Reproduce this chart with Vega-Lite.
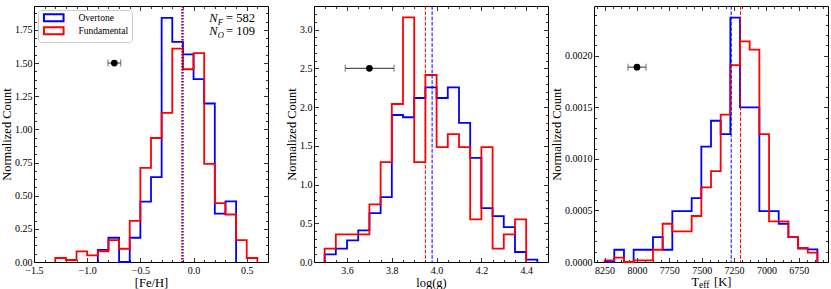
{
"$schema": "https://vega.github.io/schema/vega-lite/v6.json",
"padding": {"left": 0, "top": 4, "right": 2, "bottom": 0},
"spacing": 46,
"bounds": "flush",
"config": {
 "view": {"stroke": "black", "strokeWidth": 1},
 "font": "Liberation Serif",
 "axis": {"domain": false, "grid": false, "labelFont": "Liberation Serif", "labelFontSize": 10, "labelColor": "black", "titleFont": "Liberation Serif", "titleFontSize": 12.5, "titleFontWeight": "normal", "titleColor": "black", "tickColor": "black", "tickWidth": 0.8, "labelFlush": false, "labelOverlap": false, "labelPadding": 6.5},
 "axisBottom": {"labelPadding": 8}
},
"resolve": {"scale": {"color": "independent"}},
"datasets": {
 "h1": [
  {"s":"Overtone","i":0,"x":-0.9,"y":0},
  {"s":"Overtone","i":1,"x":-0.9,"y":0.092},
  {"s":"Overtone","i":2,"x":-0.8,"y":0.183},
  {"s":"Overtone","i":3,"x":-0.7,"y":0},
  {"s":"Overtone","i":4,"x":-0.6,"y":0.183},
  {"s":"Overtone","i":5,"x":-0.5,"y":0.455},
  {"s":"Overtone","i":6,"x":-0.4,"y":0.64},
  {"s":"Overtone","i":7,"x":-0.3,"y":1.84},
  {"s":"Overtone","i":8,"x":-0.2,"y":1.66},
  {"s":"Overtone","i":9,"x":-0.1,"y":1.565},
  {"s":"Overtone","i":10,"x":0.0,"y":1.378},
  {"s":"Overtone","i":11,"x":0.1,"y":1.195},
  {"s":"Overtone","i":12,"x":0.2,"y":0.365},
  {"s":"Overtone","i":13,"x":0.3,"y":0.457},
  {"s":"Overtone","i":14,"x":0.4,"y":0},
  {"s":"Fundamental","i":15,"x":-1.3,"y":0},
  {"s":"Fundamental","i":16,"x":-1.3,"y":0.03},
  {"s":"Fundamental","i":17,"x":-1.2,"y":0.015},
  {"s":"Fundamental","i":18,"x":-1.1,"y":0.08},
  {"s":"Fundamental","i":19,"x":-1.0,"y":0.05},
  {"s":"Fundamental","i":20,"x":-0.9,"y":0.08},
  {"s":"Fundamental","i":21,"x":-0.8,"y":0.165},
  {"s":"Fundamental","i":22,"x":-0.7,"y":0.1},
  {"s":"Fundamental","i":23,"x":-0.6,"y":0.31},
  {"s":"Fundamental","i":24,"x":-0.5,"y":0.71},
  {"s":"Fundamental","i":25,"x":-0.4,"y":0.935},
  {"s":"Fundamental","i":26,"x":-0.3,"y":1.125},
  {"s":"Fundamental","i":27,"x":-0.2,"y":1.609},
  {"s":"Fundamental","i":28,"x":-0.1,"y":1.453},
  {"s":"Fundamental","i":29,"x":0.0,"y":1.574},
  {"s":"Fundamental","i":30,"x":0.1,"y":0.74},
  {"s":"Fundamental","i":31,"x":0.2,"y":0.444},
  {"s":"Fundamental","i":32,"x":0.3,"y":0.358},
  {"s":"Fundamental","i":33,"x":0.4,"y":0.165},
  {"s":"Fundamental","i":34,"x":0.5,"y":0.03},
  {"s":"Fundamental","i":35,"x":0.6,"y":0}
 ],
 "h2": [
  {"s":"Overtone","i":0,"x":3.5,"y":0},
  {"s":"Overtone","i":1,"x":3.5,"y":0.099},
  {"s":"Overtone","i":2,"x":3.55,"y":0.172},
  {"s":"Overtone","i":3,"x":3.6,"y":0.28},
  {"s":"Overtone","i":4,"x":3.65,"y":0.408},
  {"s":"Overtone","i":5,"x":3.7,"y":0.631},
  {"s":"Overtone","i":6,"x":3.75,"y":0.838},
  {"s":"Overtone","i":7,"x":3.8,"y":1.898},
  {"s":"Overtone","i":8,"x":3.85,"y":1.869},
  {"s":"Overtone","i":9,"x":3.9,"y":2.117},
  {"s":"Overtone","i":10,"x":3.95,"y":2.255},
  {"s":"Overtone","i":11,"x":4.0,"y":2.117},
  {"s":"Overtone","i":12,"x":4.05,"y":2.255},
  {"s":"Overtone","i":13,"x":4.1,"y":1.795},
  {"s":"Overtone","i":14,"x":4.15,"y":1.344},
  {"s":"Overtone","i":15,"x":4.2,"y":0.696},
  {"s":"Overtone","i":16,"x":4.25,"y":0.593},
  {"s":"Overtone","i":17,"x":4.3,"y":0.451},
  {"s":"Overtone","i":18,"x":4.35,"y":0.129},
  {"s":"Overtone","i":19,"x":4.4,"y":0.03},
  {"s":"Overtone","i":20,"x":4.45,"y":0},
  {"s":"Fundamental","i":21,"x":3.5,"y":0},
  {"s":"Fundamental","i":22,"x":3.5,"y":0.172},
  {"s":"Fundamental","i":23,"x":3.55,"y":0.357},
  {"s":"Fundamental","i":24,"x":3.6,"y":0.357},
  {"s":"Fundamental","i":25,"x":3.65,"y":0.357},
  {"s":"Fundamental","i":26,"x":3.7,"y":0.743},
  {"s":"Fundamental","i":27,"x":3.75,"y":1.29},
  {"s":"Fundamental","i":28,"x":3.8,"y":2.04},
  {"s":"Fundamental","i":29,"x":3.85,"y":3.157},
  {"s":"Fundamental","i":30,"x":3.9,"y":1.29},
  {"s":"Fundamental","i":31,"x":3.95,"y":2.414},
  {"s":"Fundamental","i":32,"x":4.0,"y":1.482},
  {"s":"Fundamental","i":33,"x":4.05,"y":1.65},
  {"s":"Fundamental","i":34,"x":4.1,"y":1.482},
  {"s":"Fundamental","i":35,"x":4.15,"y":0.55},
  {"s":"Fundamental","i":36,"x":4.2,"y":1.482},
  {"s":"Fundamental","i":37,"x":4.25,"y":0.172},
  {"s":"Fundamental","i":38,"x":4.3,"y":0.357},
  {"s":"Fundamental","i":39,"x":4.35,"y":0.55},
  {"s":"Fundamental","i":40,"x":4.4,"y":0}
 ],
 "h3": [
  {"s":"Overtone","i":0,"x":6606.0,"y":0},
  {"s":"Overtone","i":1,"x":6606.0,"y":0.000123},
  {"s":"Overtone","i":2,"x":6680.7,"y":0.000129},
  {"s":"Overtone","i":3,"x":6755.4,"y":0.000242},
  {"s":"Overtone","i":4,"x":6830.1,"y":0.000371},
  {"s":"Overtone","i":5,"x":6904.9,"y":0.000494},
  {"s":"Overtone","i":6,"x":6979.6,"y":0.000494},
  {"s":"Overtone","i":7,"x":7054.3,"y":0.00150},
  {"s":"Overtone","i":8,"x":7129.1,"y":0.00150},
  {"s":"Overtone","i":9,"x":7203.8,"y":0.00237},
  {"s":"Overtone","i":10,"x":7278.5,"y":0.00124},
  {"s":"Overtone","i":11,"x":7353.2,"y":0.00137},
  {"s":"Overtone","i":12,"x":7428.0,"y":0.00112},
  {"s":"Overtone","i":13,"x":7502.7,"y":0.000620},
  {"s":"Overtone","i":14,"x":7577.4,"y":0.000494},
  {"s":"Overtone","i":15,"x":7652.2,"y":0.000494},
  {"s":"Overtone","i":16,"x":7726.9,"y":0.000119},
  {"s":"Overtone","i":17,"x":7801.6,"y":0.000242},
  {"s":"Overtone","i":18,"x":7876.4,"y":0.000119},
  {"s":"Overtone","i":19,"x":7951.1,"y":0.000119},
  {"s":"Overtone","i":20,"x":8025.8,"y":0},
  {"s":"Overtone","i":21,"x":8100.5,"y":0.000119},
  {"s":"Overtone","i":22,"x":8175.3,"y":0},
  {"s":"Overtone","i":23,"x":8250.0,"y":0},
  {"s":"Fundamental","i":24,"x":6606.0,"y":0},
  {"s":"Fundamental","i":25,"x":6606.0,"y":0.000090},
  {"s":"Fundamental","i":26,"x":6680.7,"y":0.000136},
  {"s":"Fundamental","i":27,"x":6755.4,"y":0.000242},
  {"s":"Fundamental","i":28,"x":6830.1,"y":0.000394},
  {"s":"Fundamental","i":29,"x":6904.9,"y":0.000394},
  {"s":"Fundamental","i":30,"x":6979.6,"y":0.00124},
  {"s":"Fundamental","i":31,"x":7054.3,"y":0.00206},
  {"s":"Fundamental","i":32,"x":7129.1,"y":0.00214},
  {"s":"Fundamental","i":33,"x":7203.8,"y":0.00191},
  {"s":"Fundamental","i":34,"x":7278.5,"y":0.00143},
  {"s":"Fundamental","i":35,"x":7353.2,"y":0.000882},
  {"s":"Fundamental","i":36,"x":7428.0,"y":0.000723},
  {"s":"Fundamental","i":37,"x":7502.7,"y":0.000446},
  {"s":"Fundamental","i":38,"x":7577.4,"y":0.000297},
  {"s":"Fundamental","i":39,"x":7652.2,"y":0.000297},
  {"s":"Fundamental","i":40,"x":7726.9,"y":0.000371},
  {"s":"Fundamental","i":41,"x":7801.6,"y":0.000119},
  {"s":"Fundamental","i":42,"x":7876.4,"y":0.000016},
  {"s":"Fundamental","i":43,"x":7951.1,"y":0.000016},
  {"s":"Fundamental","i":44,"x":8025.8,"y":0},
  {"s":"Fundamental","i":45,"x":8100.5,"y":0.000042},
  {"s":"Fundamental","i":46,"x":8175.3,"y":0.000016},
  {"s":"Fundamental","i":47,"x":8250.0,"y":0}
 ],
 "m1": [{"s":"Overtone","x":-0.10},{"s":"Fundamental","x":-0.11}],
 "m2": [{"s":"Overtone","x":3.98},{"s":"Fundamental","x":3.95}],
 "m3": [{"s":"Overtone","x":7272},{"s":"Fundamental","x":7200}],
 "e1": [{"x":-0.745,"lo":-0.805,"hi":-0.685,"y":1.5}],
 "e2": [{"x":3.70,"lo":3.592,"hi":3.81,"y":2.5}],
 "e3": [{"x":8000,"lo":7930,"hi":8070,"y":0.00189}],
 "nMain": [{"x":0.148,"y":1.813,"t":"N"},{"x":0.148,"y":1.708,"t":"N"}],
 "nSub": [{"x":0.228,"y":1.79,"t":"F"},{"x":0.228,"y":1.685,"t":"O"}],
 "nVal": [{"x":0.305,"y":1.813,"t":"= 582"},{"x":0.305,"y":1.708,"t":"= 109"}],
 "tMain": [{"x":7579,"y":-0.000228,"t":"T"},{"x":7405,"y":-0.000228,"t":"[K]"}],
 "tSub": [{"x":7521,"y":-0.000252,"t":"eff"}]
},
"hconcat": [
 {
  "width": 234, "height": 256,
  "resolve": {"axis": {"x": "independent", "y": "independent"}},
  "layer": [
   {"data": {"name": "h1"},
    "mark": {"type": "line", "interpolate": "step-after", "strokeWidth": 1.8},
    "encoding": {
     "x": {"field": "x", "type": "quantitative", "scale": {"domain": [-1.5, 0.7], "nice": false, "zero": false},
           "axis": {"orient": "bottom", "values": [-1.5, -1, -0.5, 0, 0.5], "format": ".1f", "tickSize": -4.5, "title": "[Fe/H]", "titlePadding": 1}},
     "y": {"field": "y", "type": "quantitative", "scale": {"domain": [0, 1.93], "nice": false, "zero": false},
           "axis": {"orient": "left", "values": [0, 0.25, 0.5, 0.75, 1, 1.25, 1.5, 1.75], "format": ".2f", "tickSize": -4.5, "title": "Normalized Count", "titlePadding": 1}},
     "color": {"field": "s", "type": "nominal", "scale": {"domain": ["Overtone", "Fundamental"], "range": ["#0000ff", "#ff0000"]},
               "legend": {"title": null, "orient": "top-left", "offset": 4, "padding": 3, "strokeColor": "#cccccc", "fillColor": "white", "cornerRadius": 3, "symbolType": "M-2.8,-1H2.8V1H-2.8Z", "symbolSize": 49, "symbolStrokeWidth": 2, "symbolFillColor": "transparent", "symbolOffset": 8, "labelOffset": 20, "labelFont": "Liberation Serif", "labelFontSize": 9.5, "labelColor": "black", "rowPadding": -6}},
     "order": {"field": "i", "type": "quantitative"}
    }
   },
   {"data": {"name": "m1"},
    "mark": {"type": "rule", "strokeDash": [1.5, 1.5], "strokeWidth": 1.5},
    "encoding": {
     "x": {"field": "x", "type": "quantitative", "scale": {"domain": [-1.5, 0.7], "nice": false, "zero": false}, "axis": null},
     "color": {"field": "s", "type": "nominal", "scale": {"domain": ["Overtone", "Fundamental"], "range": ["#0000ff", "#ff0000"]}, "legend": null}
    }
   },
   {"data": {"name": "e1"},
    "mark": {"type": "errorbar", "ticks": {"size": 7, "thickness": 1.2, "color": "#555555"}, "rule": {"strokeWidth": 1.2, "color": "#555555"}},
    "encoding": {
     "x": {"field": "lo", "type": "quantitative", "scale": {"domain": [-1.5, 0.7], "nice": false, "zero": false}, "axis": null},
     "x2": {"field": "hi"},
     "y": {"field": "y", "type": "quantitative", "scale": {"domain": [0, 1.93], "nice": false, "zero": false}, "axis": null}
    }
   },
   {"data": {"name": "e1"},
    "mark": {"type": "point", "filled": true, "color": "black", "size": 45, "opacity": 1},
    "encoding": {
     "x": {"field": "x", "type": "quantitative", "scale": {"domain": [-1.5, 0.7], "nice": false, "zero": false},
           "axis": {"orient": "bottom", "values": [-1.4,-1.3,-1.2,-1.1,-0.9,-0.8,-0.7,-0.6,-0.4,-0.3,-0.2,-0.1,0.1,0.2,0.3,0.4,0.6], "labels": false, "tickSize": -2.5, "title": null}},
     "y": {"field": "y", "type": "quantitative", "scale": {"domain": [0, 1.93], "nice": false, "zero": false},
           "axis": {"orient": "left", "values": [0.0625,0.125,0.1875,0.3125,0.375,0.4375,0.5625,0.625,0.6875,0.8125,0.875,0.9375,1.0625,1.125,1.1875,1.3125,1.375,1.4375,1.5625,1.625,1.6875,1.8125,1.875], "labels": false, "tickSize": -2.5, "title": null}}
    }
   },
   {"data": {"name": "e1"},
    "mark": {"type": "point", "opacity": 0},
    "encoding": {
     "x": {"field": "x", "type": "quantitative", "scale": {"domain": [-1.5, 0.7], "nice": false, "zero": false},
           "axis": {"orient": "top", "values": [-1.5, -1, -0.5, 0, 0.5], "labels": false, "tickSize": -4.5, "title": null}},
     "y": {"field": "y", "type": "quantitative", "scale": {"domain": [0, 1.93], "nice": false, "zero": false},
           "axis": {"orient": "right", "values": [0, 0.25, 0.5, 0.75, 1, 1.25, 1.5, 1.75], "labels": false, "tickSize": -4.5, "title": null}}
    }
   },
   {"data": {"name": "e1"},
    "mark": {"type": "point", "opacity": 0},
    "encoding": {
     "x": {"field": "x", "type": "quantitative", "scale": {"domain": [-1.5, 0.7], "nice": false, "zero": false},
           "axis": {"orient": "top", "values": [-1.4,-1.3,-1.2,-1.1,-0.9,-0.8,-0.7,-0.6,-0.4,-0.3,-0.2,-0.1,0.1,0.2,0.3,0.4,0.6], "labels": false, "tickSize": -2.5, "title": null}},
     "y": {"field": "y", "type": "quantitative", "scale": {"domain": [0, 1.93], "nice": false, "zero": false},
           "axis": {"orient": "right", "values": [0.0625,0.125,0.1875,0.3125,0.375,0.4375,0.5625,0.625,0.6875,0.8125,0.875,0.9375,1.0625,1.125,1.1875,1.3125,1.375,1.4375,1.5625,1.625,1.6875,1.8125,1.875], "labels": false, "tickSize": -2.5, "title": null}}
    }
   },
   {"data": {"name": "nMain"},
    "mark": {"type": "text", "font": "Liberation Serif", "fontStyle": "italic", "fontSize": 12.5, "align": "left", "baseline": "alphabetic", "color": "black"},
    "encoding": {
     "x": {"field": "x", "type": "quantitative", "scale": {"domain": [-1.5, 0.7], "nice": false, "zero": false}, "axis": null},
     "y": {"field": "y", "type": "quantitative", "scale": {"domain": [0, 1.93], "nice": false, "zero": false}, "axis": null},
     "text": {"field": "t"}
    }
   },
   {"data": {"name": "nSub"},
    "mark": {"type": "text", "font": "Liberation Serif", "fontStyle": "italic", "fontSize": 8.5, "align": "left", "baseline": "alphabetic", "color": "black"},
    "encoding": {
     "x": {"field": "x", "type": "quantitative", "scale": {"domain": [-1.5, 0.7], "nice": false, "zero": false}, "axis": null},
     "y": {"field": "y", "type": "quantitative", "scale": {"domain": [0, 1.93], "nice": false, "zero": false}, "axis": null},
     "text": {"field": "t"}
    }
   },
   {"data": {"name": "nVal"},
    "mark": {"type": "text", "font": "Liberation Serif", "fontSize": 12.5, "align": "left", "baseline": "alphabetic", "color": "black"},
    "encoding": {
     "x": {"field": "x", "type": "quantitative", "scale": {"domain": [-1.5, 0.7], "nice": false, "zero": false}, "axis": null},
     "y": {"field": "y", "type": "quantitative", "scale": {"domain": [0, 1.93], "nice": false, "zero": false}, "axis": null},
     "text": {"field": "t"}
    }
   }
  ]
 },
 {
  "width": 234, "height": 256,
  "resolve": {"axis": {"x": "independent", "y": "independent"}},
  "layer": [
   {"data": {"name": "h2"},
    "mark": {"type": "line", "interpolate": "step-after", "strokeWidth": 1.8},
    "encoding": {
     "x": {"field": "x", "type": "quantitative", "scale": {"domain": [3.4525, 4.4975], "nice": false, "zero": false},
           "axis": {"orient": "bottom", "values": [3.6, 3.8, 4.0, 4.2, 4.4], "format": ".1f", "tickSize": -4.5, "title": "log(g)", "titlePadding": 1}},
     "y": {"field": "y", "type": "quantitative", "scale": {"domain": [0, 3.305], "nice": false, "zero": false},
           "axis": {"orient": "left", "values": [0, 0.5, 1, 1.5, 2, 2.5, 3], "format": ".1f", "tickSize": -4.5, "title": "Normalized Count", "titlePadding": 1}},
     "color": {"field": "s", "type": "nominal", "scale": {"domain": ["Overtone", "Fundamental"], "range": ["#0000ff", "#ff0000"]}, "legend": null},
     "order": {"field": "i", "type": "quantitative"}
    }
   },
   {"data": {"name": "m2"},
    "mark": {"type": "rule", "strokeDash": [3.7, 1.6], "strokeWidth": 1},
    "encoding": {
     "x": {"field": "x", "type": "quantitative", "scale": {"domain": [3.4525, 4.4975], "nice": false, "zero": false}, "axis": null},
     "color": {"field": "s", "type": "nominal", "scale": {"domain": ["Overtone", "Fundamental"], "range": ["#0000ff", "#ff0000"]}, "legend": null}
    }
   },
   {"data": {"name": "e2"},
    "mark": {"type": "errorbar", "ticks": {"size": 7, "thickness": 1.2, "color": "#555555"}, "rule": {"strokeWidth": 1.2, "color": "#555555"}},
    "encoding": {
     "x": {"field": "lo", "type": "quantitative", "scale": {"domain": [3.4525, 4.4975], "nice": false, "zero": false}, "axis": null},
     "x2": {"field": "hi"},
     "y": {"field": "y", "type": "quantitative", "scale": {"domain": [0, 3.305], "nice": false, "zero": false}, "axis": null}
    }
   },
   {"data": {"name": "e2"},
    "mark": {"type": "point", "filled": true, "color": "black", "size": 45, "opacity": 1},
    "encoding": {
     "x": {"field": "x", "type": "quantitative", "scale": {"domain": [3.4525, 4.4975], "nice": false, "zero": false},
           "axis": {"orient": "bottom", "values": [3.5,3.55,3.65,3.7,3.75,3.85,3.9,3.95,4.05,4.1,4.15,4.25,4.3,4.35,4.45], "labels": false, "tickSize": -2.5, "title": null}},
     "y": {"field": "y", "type": "quantitative", "scale": {"domain": [0, 3.305], "nice": false, "zero": false},
           "axis": {"orient": "left", "values": [0.1,0.2,0.3,0.4,0.6,0.7,0.8,0.9,1.1,1.2,1.3,1.4,1.6,1.7,1.8,1.9,2.1,2.2,2.3,2.4,2.6,2.7,2.8,2.9,3.1,3.2,3.3], "labels": false, "tickSize": -2.5, "title": null}}
    }
   },
   {"data": {"name": "e2"},
    "mark": {"type": "point", "opacity": 0},
    "encoding": {
     "x": {"field": "x", "type": "quantitative", "scale": {"domain": [3.4525, 4.4975], "nice": false, "zero": false},
           "axis": {"orient": "top", "values": [3.6, 3.8, 4.0, 4.2, 4.4], "labels": false, "tickSize": -4.5, "title": null}},
     "y": {"field": "y", "type": "quantitative", "scale": {"domain": [0, 3.305], "nice": false, "zero": false},
           "axis": {"orient": "right", "values": [0, 0.5, 1, 1.5, 2, 2.5, 3], "labels": false, "tickSize": -4.5, "title": null}}
    }
   },
   {"data": {"name": "e2"},
    "mark": {"type": "point", "opacity": 0},
    "encoding": {
     "x": {"field": "x", "type": "quantitative", "scale": {"domain": [3.4525, 4.4975], "nice": false, "zero": false},
           "axis": {"orient": "top", "values": [3.5,3.55,3.65,3.7,3.75,3.85,3.9,3.95,4.05,4.1,4.15,4.25,4.3,4.35,4.45], "labels": false, "tickSize": -2.5, "title": null}},
     "y": {"field": "y", "type": "quantitative", "scale": {"domain": [0, 3.305], "nice": false, "zero": false},
           "axis": {"orient": "right", "values": [0.1,0.2,0.3,0.4,0.6,0.7,0.8,0.9,1.1,1.2,1.3,1.4,1.6,1.7,1.8,1.9,2.1,2.2,2.3,2.4,2.6,2.7,2.8,2.9,3.1,3.2,3.3], "labels": false, "tickSize": -2.5, "title": null}}
    }
   }
  ]
 },
 {
  "width": 234, "height": 256,
  "resolve": {"axis": {"x": "independent", "y": "independent"}},
  "layer": [
   {"data": {"name": "h3"},
    "mark": {"type": "line", "interpolate": "step-after", "strokeWidth": 1.8},
    "encoding": {
     "x": {"field": "x", "type": "quantitative", "scale": {"domain": [6524, 8332], "nice": false, "zero": false, "reverse": true},
           "axis": {"orient": "bottom", "values": [6750, 7000, 7250, 7500, 7750, 8000, 8250], "format": "d", "tickSize": -4.5, "title": null}},
     "y": {"field": "y", "type": "quantitative", "scale": {"domain": [0, 0.002483], "nice": false, "zero": false},
           "axis": {"orient": "left", "values": [0, 0.0005, 0.001, 0.0015, 0.002], "format": ".4f", "tickSize": -4.5, "title": "Normalized Count", "titlePadding": 1}},
     "color": {"field": "s", "type": "nominal", "scale": {"domain": ["Overtone", "Fundamental"], "range": ["#0000ff", "#ff0000"]}, "legend": null},
     "order": {"field": "i", "type": "quantitative"}
    }
   },
   {"data": {"name": "m3"},
    "mark": {"type": "rule", "strokeDash": [3.7, 1.6], "strokeWidth": 1},
    "encoding": {
     "x": {"field": "x", "type": "quantitative", "scale": {"domain": [6524, 8332], "nice": false, "zero": false, "reverse": true}, "axis": null},
     "color": {"field": "s", "type": "nominal", "scale": {"domain": ["Overtone", "Fundamental"], "range": ["#0000ff", "#ff0000"]}, "legend": null}
    }
   },
   {"data": {"name": "e3"},
    "mark": {"type": "errorbar", "ticks": {"size": 7, "thickness": 1.2, "color": "#555555"}, "rule": {"strokeWidth": 1.2, "color": "#555555"}},
    "encoding": {
     "x": {"field": "lo", "type": "quantitative", "scale": {"domain": [6524, 8332], "nice": false, "zero": false, "reverse": true}, "axis": null},
     "x2": {"field": "hi"},
     "y": {"field": "y", "type": "quantitative", "scale": {"domain": [0, 0.002483], "nice": false, "zero": false}, "axis": null}
    }
   },
   {"data": {"name": "e3"},
    "mark": {"type": "point", "filled": true, "color": "black", "size": 45, "opacity": 1},
    "encoding": {
     "x": {"field": "x", "type": "quantitative", "scale": {"domain": [6524, 8332], "nice": false, "zero": false, "reverse": true},
           "axis": {"orient": "bottom", "values": [6562.5,6625,6687.5,6812.5,6875,6937.5,7062.5,7125,7187.5,7312.5,7375,7437.5,7562.5,7625,7687.5,7812.5,7875,7937.5,8062.5,8125,8187.5,8312.5], "labels": false, "tickSize": -2.5, "title": null}},
     "y": {"field": "y", "type": "quantitative", "scale": {"domain": [0, 0.002483], "nice": false, "zero": false},
           "axis": {"orient": "left", "values": [0.0001,0.0002,0.0003,0.0004,0.0006,0.0007,0.0008,0.0009,0.0011,0.0012,0.0013,0.0014,0.0016,0.0017,0.0018,0.0019,0.0021,0.0022,0.0023,0.0024], "labels": false, "tickSize": -2.5, "title": null}}
    }
   },
   {"data": {"name": "e3"},
    "mark": {"type": "point", "opacity": 0},
    "encoding": {
     "x": {"field": "x", "type": "quantitative", "scale": {"domain": [6524, 8332], "nice": false, "zero": false, "reverse": true},
           "axis": {"orient": "top", "values": [6750, 7000, 7250, 7500, 7750, 8000, 8250], "labels": false, "tickSize": -4.5, "title": null}},
     "y": {"field": "y", "type": "quantitative", "scale": {"domain": [0, 0.002483], "nice": false, "zero": false},
           "axis": {"orient": "right", "values": [0, 0.0005, 0.001, 0.0015, 0.002], "labels": false, "tickSize": -4.5, "title": null}}
    }
   },
   {"data": {"name": "e3"},
    "mark": {"type": "point", "opacity": 0},
    "encoding": {
     "x": {"field": "x", "type": "quantitative", "scale": {"domain": [6524, 8332], "nice": false, "zero": false, "reverse": true},
           "axis": {"orient": "top", "values": [6562.5,6625,6687.5,6812.5,6875,6937.5,7062.5,7125,7187.5,7312.5,7375,7437.5,7562.5,7625,7687.5,7812.5,7875,7937.5,8062.5,8125,8187.5,8312.5], "labels": false, "tickSize": -2.5, "title": null}},
     "y": {"field": "y", "type": "quantitative", "scale": {"domain": [0, 0.002483], "nice": false, "zero": false},
           "axis": {"orient": "right", "values": [0.0001,0.0002,0.0003,0.0004,0.0006,0.0007,0.0008,0.0009,0.0011,0.0012,0.0013,0.0014,0.0016,0.0017,0.0018,0.0019,0.0021,0.0022,0.0023,0.0024], "labels": false, "tickSize": -2.5, "title": null}}
    }
   },
   {"data": {"name": "tMain"},
    "mark": {"type": "text", "font": "Liberation Serif", "fontSize": 12.5, "align": "left", "baseline": "alphabetic", "color": "black"},
    "encoding": {
     "x": {"field": "x", "type": "quantitative", "scale": {"domain": [6524, 8332], "nice": false, "zero": false, "reverse": true}, "axis": null},
     "y": {"field": "y", "type": "quantitative", "scale": {"domain": [0, 0.002483], "nice": false, "zero": false}, "axis": null},
     "text": {"field": "t"}
    }
   },
   {"data": {"name": "tSub"},
    "mark": {"type": "text", "font": "Liberation Serif", "fontSize": 9.5, "align": "left", "baseline": "alphabetic", "color": "black"},
    "encoding": {
     "x": {"field": "x", "type": "quantitative", "scale": {"domain": [6524, 8332], "nice": false, "zero": false, "reverse": true}, "axis": null},
     "y": {"field": "y", "type": "quantitative", "scale": {"domain": [0, 0.002483], "nice": false, "zero": false}, "axis": null},
     "text": {"field": "t"}
    }
   }
  ]
 }
]
}
